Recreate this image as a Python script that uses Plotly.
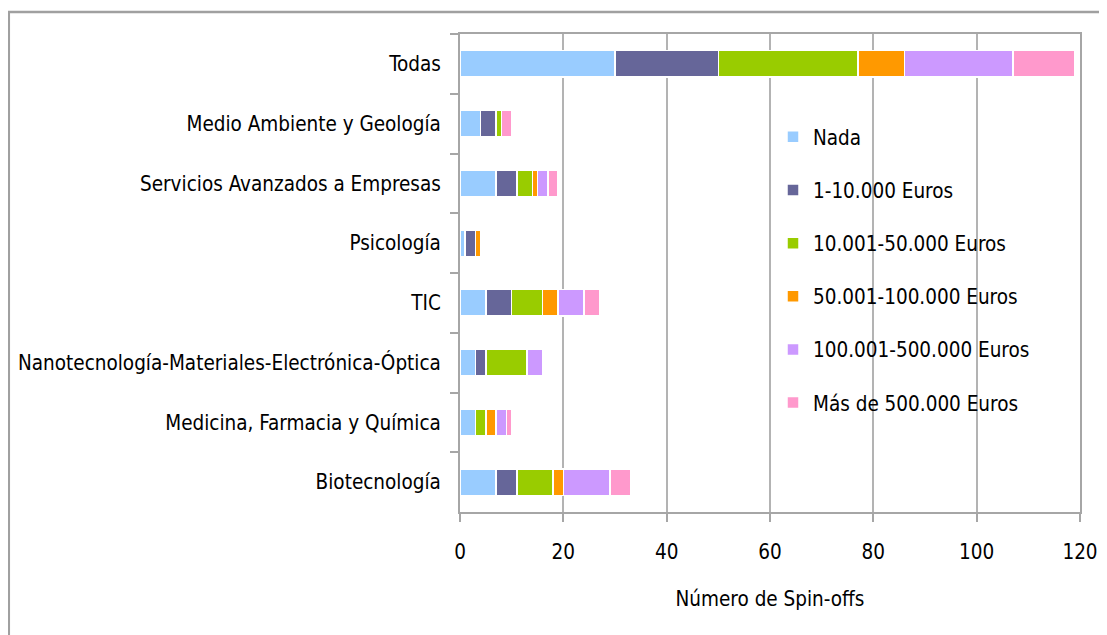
import plotly.graph_objects as go

categories = ["Todas", "Medio Ambiente y Geología", "Servicios Avanzados a Empresas",
              "Psicología", "TIC", "Nanotecnología-Materiales-Electrónica-Óptica",
              "Medicina, Farmacia y Química", "Biotecnología"]

series_names = ["Nada", "1-10.000 Euros", "10.001-50.000 Euros", "50.001-100.000 Euros",
                "100.001-500.000 Euros", "Más de 500.000 Euros"]

nada       = [30, 4, 7, 1, 5, 3, 3, 7]
e1_10k     = [20, 3, 4, 2, 5, 2, 0, 4]
e10k_50k   = [27, 1, 3, 0, 6, 8, 2, 7]
e50k_100k  = [9, 0, 1, 1, 3, 0, 2, 2]
e100k_500k = [21, 0, 2, 0, 5, 3, 2, 9]
mas_500k   = [12, 2, 2, 0, 3, 0, 1, 4]

series_values = [nada, e1_10k, e10k_50k, e50k_100k, e100k_500k, mas_500k]
colors = ["#99CCFF", "#666699", "#99CC00", "#FF9900", "#CC99FF", "#FF99CC"]

x_ticks = [0, 20, 40, 60, 80, 100, 120]

FONT = "DejaVu Sans Condensed, Liberation Sans Narrow, sans-serif"
FS = 20.5

fig = go.Figure()
for i, (name, vals, col) in enumerate(zip(series_names, series_values, colors)):
    fig.add_trace(go.Bar(
        y=categories, x=vals, name=name, orientation="h",
        marker=dict(color=col, line=dict(color="white", width=1.5)),
        legendgroup=f"g{i}",
    ))

# page has 8px body margin -> figure coordinates are page - 8
W, H = 1099, 627
L, R, T, B = 452, 1072, 26, 504

fig.update_layout(
    width=W, height=H,
    barmode="stack", bargap=0.56,
    margin=dict(l=L, r=W - R, t=T, b=H - B, autoexpand=False),
    paper_bgcolor="white", plot_bgcolor="white",
    font=dict(family=FONT, size=FS, color="#000000"),
    showlegend=True,
    legend=dict(
        x=(765 - L) / (R - L), y=(B - 109) / (B - T), xanchor="left", yanchor="top",
        traceorder="grouped", tracegroupgap=23.5,
        font=dict(family=FONT, size=FS, color="#000000"),
        bgcolor="rgba(255,255,255,0)",
    ),
    xaxis=dict(
        range=[0, 120], tickvals=x_ticks, ticktext=[str(v) for v in x_ticks],
        showgrid=True, gridcolor="#B3B3B3", gridwidth=1.5,
        showline=True, linecolor="#A6A6A6", linewidth=2, mirror=True,
        ticks="outside", ticklen=8, tickcolor="#A6A6A6", tickwidth=1.5,
        tickfont=dict(family=FONT, size=FS), ticklabelstandoff=12,
        title=dict(text="Número de Spin-offs", font=dict(family=FONT, size=FS), standoff=29),
        zeroline=False, fixedrange=True,
    ),
    yaxis=dict(
        categoryorder="array", categoryarray=categories, autorange="reversed",
        showline=True, linecolor="#A6A6A6", linewidth=2, mirror=True,
        ticks="outside", ticklen=8, tickcolor="#A6A6A6", tickwidth=1.5,
        tickson="boundaries", showgrid=False,
        tickfont=dict(family=FONT, size=FS), ticklabelstandoff=13,
        fixedrange=True,
    ),
)

# outer chart border (top and left visible)
fig.add_shape(type="rect", xref="paper", yref="paper",
              x0=(0.8 - L) / (R - L), x1=(W + 20 - L) / (R - L),
              y0=(B - (H + 20)) / (B - T), y1=(B - 4) / (B - T),
              line=dict(color="#A0A0A0", width=2.5), fillcolor="rgba(0,0,0,0)", layer="below")

fig.write_html("out.html")
